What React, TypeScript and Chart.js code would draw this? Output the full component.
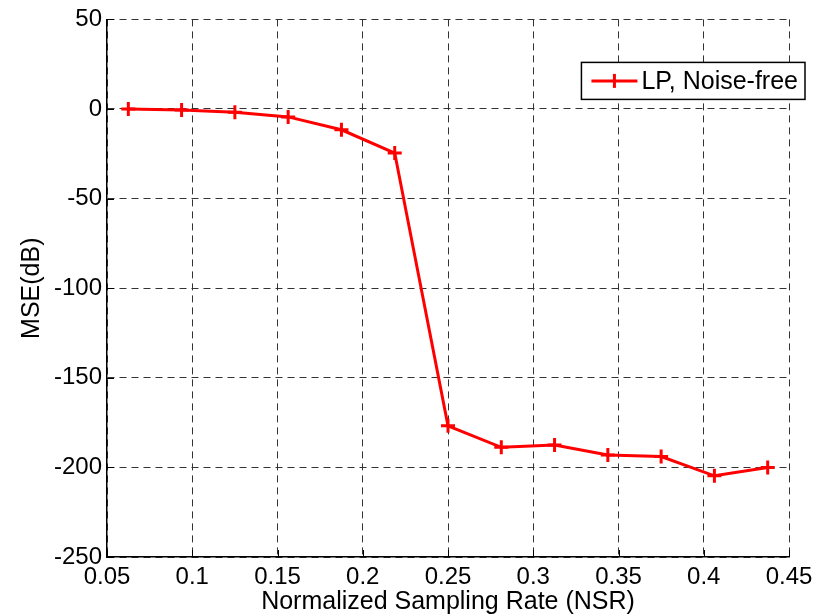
import React, { useEffect, useRef } from "react";
import { Chart, registerables } from "chart.js";

Chart.register(...registerables);

// Normalized sampling rates (k/32) and the resulting reconstruction error
const nsr = [0.0625, 0.09375, 0.125, 0.15625, 0.1875, 0.21875, 0.25, 0.28125, 0.3125, 0.34375, 0.375, 0.40625, 0.4375];
const mseDb = [0, -0.6, -1.8, -4.4, -11.6, -24.6, -176.8, -188.8, -187.5, -193.1, -193.9, -204.7, -200.0];

const seriesLabel = "LP, Noise-free";
const xTitle = "Normalized Sampling Rate (NSR)";
const yTitle = "MSE(dB)";

const xMin = 0.05, xMax = 0.45, xStep = 0.05;
const yMin = -250, yMax = 50, yStep = 50;

const FONT = "'Liberation Sans', Arial, Helvetica, sans-serif";

// Short inward tick marks on the left and bottom axes
const inwardTicks = {
  id: "inwardTicks",
  beforeDatasetsDraw(chart: any) {
    const { ctx, chartArea, scales } = chart;
    const len = 7;
    ctx.save();
    ctx.strokeStyle = "#000";
    ctx.lineWidth = 1;
    ctx.beginPath();
    for (const t of scales.x.ticks) {
      const px = Math.round(scales.x.getPixelForValue(t.value)) + 0.5;
      ctx.moveTo(px, chartArea.bottom);
      ctx.lineTo(px, chartArea.bottom - len);
    }
    for (const t of scales.y.ticks) {
      const py = Math.round(scales.y.getPixelForValue(t.value)) + 0.5;
      ctx.moveTo(chartArea.left, py);
      ctx.lineTo(chartArea.left + len, py);
    }
    ctx.stroke();
    ctx.restore();
  },
};

// Boxed legend sitting inside the upper right corner of the axes
const boxLegend = {
  id: "boxLegend",
  afterDatasetsDraw(chart: any) {
    const { ctx, chartArea } = chart;
    const ds = chart.data.datasets[0];
    const right = chartArea.right + 16;
    const top = chartArea.top + 43;
    const h = 37;
    ctx.save();
    ctx.font = `25px ${FONT}`;
    const tw = ctx.measureText(ds.label).width;
    const w = 10 + 46 + 4 + tw + 7;
    const left = right - w;
    ctx.fillStyle = "#fff";
    ctx.fillRect(left, top, w, h);
    ctx.strokeStyle = "#000";
    ctx.lineWidth = 1.5;
    ctx.strokeRect(left, top, w, h);
    const cy = top + h / 2;
    const lx0 = left + 10, lx1 = lx0 + 46;
    ctx.strokeStyle = ds.borderColor;
    ctx.lineWidth = ds.borderWidth;
    ctx.beginPath();
    ctx.moveTo(lx0, cy);
    ctx.lineTo(lx1, cy);
    ctx.stroke();
    ctx.lineWidth = ds.pointBorderWidth;
    ctx.beginPath();
    const mx = (lx0 + lx1) / 2;
    ctx.moveTo(mx, cy - 7);
    ctx.lineTo(mx, cy + 7);
    ctx.stroke();
    ctx.fillStyle = "#000";
    ctx.textBaseline = "middle";
    ctx.textAlign = "left";
    ctx.fillText(ds.label, lx1 + 4, cy + 1);
    ctx.restore();
  },
};

export default function App() {
  const canvasRef = useRef<HTMLCanvasElement | null>(null);

  useEffect(() => {
    const canvas = canvasRef.current;
    if (!canvas) return;
    const chart = new Chart(canvas, {
      type: "line",
      data: {
        datasets: [
          {
            label: seriesLabel,
            data: nsr.map((x, i) => ({ x, y: mseDb[i] })),
            borderColor: "#ff0000",
            backgroundColor: "#ff0000",
            borderWidth: 3,
            pointStyle: "cross",
            pointRadius: 7,
            pointBorderWidth: 3,
            pointBorderColor: "#ff0000",
            tension: 0,
            fill: false,
          },
        ],
      },
      options: {
        responsive: false,
        animation: false,
        layout: { padding: { top: 17, right: 38, bottom: 0, left: 0 } },
        plugins: {
          legend: { display: false },
          tooltip: { enabled: false },
        },
        scales: {
          x: {
            type: "linear",
            min: xMin,
            max: xMax,
            ticks: {
              stepSize: xStep,
              color: "#000",
              padding: 6,
              font: { family: FONT, size: 24 },
              callback: (v: any) => String(Math.round(Number(v) * 100) / 100),
            },
            grid: { color: "#333", lineWidth: 1, drawTicks: false },
            border: { display: true, color: "#000", width: 1.5, dash: [7, 5] },
            title: {
              display: true,
              text: xTitle,
              color: "#000",
              font: { family: FONT, size: 25, lineHeight: 1 },
              padding: { top: 0, bottom: 1 },
            },
            afterFit: (s: any) => {
              s.height = 59;
            },
          },
          y: {
            type: "linear",
            min: yMin,
            max: yMax,
            ticks: {
              stepSize: yStep,
              color: "#000",
              padding: 5,
              font: { family: FONT, size: 24 },
            },
            grid: { color: "#333", lineWidth: 1, drawTicks: false },
            border: { display: true, color: "#000", width: 1.5, dash: [7, 5] },
            title: {
              display: true,
              text: yTitle,
              color: "#000",
              font: { family: FONT, size: 25, lineHeight: 1 },
              padding: { top: 20, bottom: 0 },
            },
            afterFit: (s: any) => {
              s.width = 107;
            },
          },
        },
      },
      plugins: [inwardTicks, boxLegend],
    });
    return () => chart.destroy();
  }, []);

  return (
    <div style={{ position: "absolute", left: 0, top: 0, width: 827, height: 616, background: "#fff" }}>
      <canvas ref={canvasRef} width={827} height={616} />
    </div>
  );
}
